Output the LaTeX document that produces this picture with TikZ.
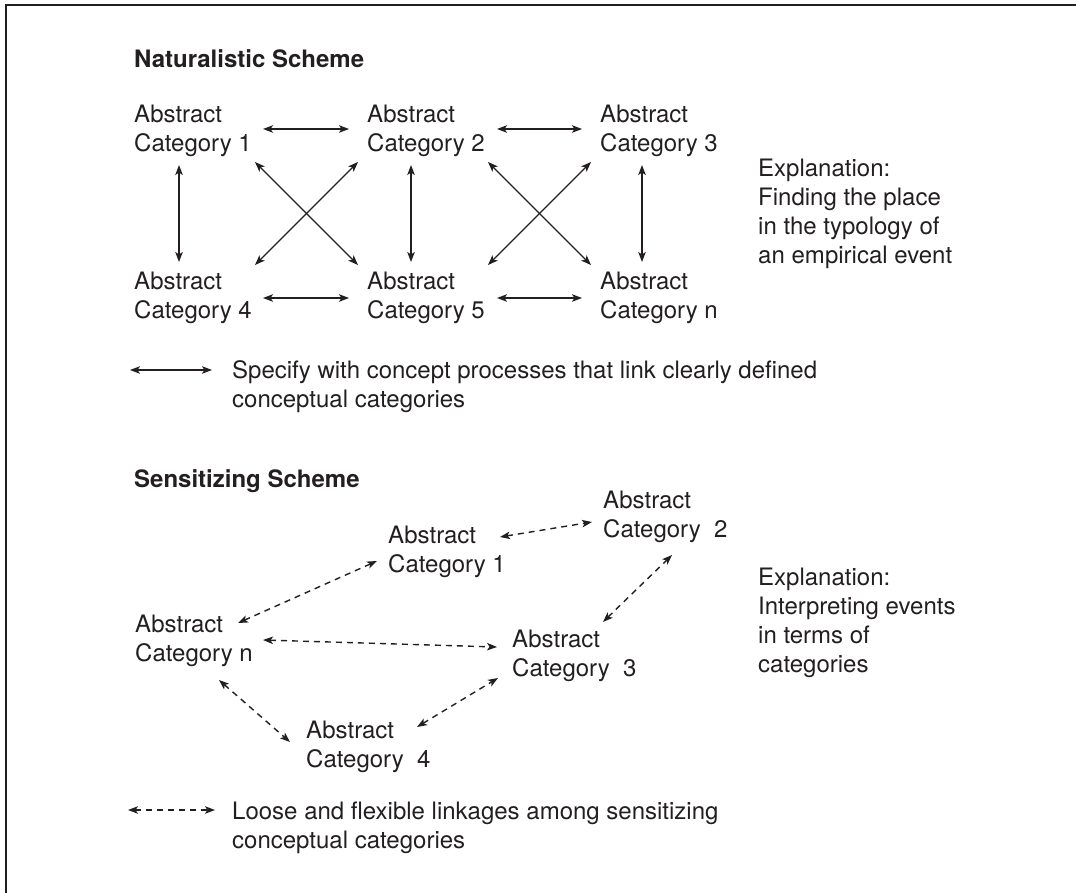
\documentclass[tikz,border=0pt]{standalone}
\usepackage{fontspec}
\setmainfont{TeX Gyre Heros}
\usetikzlibrary{arrows.meta,calc}
\definecolor{ink}{HTML}{231F20}
\newcommand{\rowsof}[1]{\begin{tabular}[t]{@{}l@{}}#1\end{tabular}}
\begin{document}
\begin{tikzpicture}[x=1pt,y=-1pt,
  txt/.style={inner sep=0pt, anchor=base west, text=ink, font=\fontsize{24}{29}\selectfont},
  ttl/.style={txt, font=\fontsize{24}{29}\selectfont\bfseries},
  sarr/.style={draw=ink, line width=1.4pt,
    {Stealth[length=10pt,width=7.5pt,inset=2.5pt]}-{Stealth[length=10pt,width=7.5pt,inset=2.5pt]}},
  darr/.style={sarr, dash pattern=on 6pt off 5pt}]
\useasboundingbox (0,0) rectangle (1076,893);
% frame
\draw[ink, line width=1.5pt] (1076,5) -- (6,5) -- (6,893);

% ---------- Naturalistic scheme ----------
\node[ttl] (t1) at (134,68) {Naturalistic Scheme};
\node[txt] (n1) at (134,123) {\rowsof{Abstract\\Category 1}};
\node[txt] (n2) at (367,123) {\rowsof{Abstract\\Category 2}};
\node[txt] (n3) at (600,123) {\rowsof{Abstract\\Category 3}};
\node[txt] (n4) at (134,290) {\rowsof{Abstract\\Category 4}};
\node[txt] (n5) at (367,290) {\rowsof{Abstract\\Category 5}};
\node[txt] (n6) at (600,290) {\rowsof{Abstract\\Category n}};
\node[txt] (e1) at (758,177) {\rowsof{Explanation:\\Finding the place\\in the typology of\\an empirical event}};

% horizontal
\draw[sarr] ($(n1.base west)+(129,6)$) -- ($(n2.base west)+(-18,6)$);
\draw[sarr] ($(n2.base west)+(130,6)$) -- ($(n3.base west)+(-18,6)$);
\draw[sarr] ($(n4.base west)+(129,8)$) -- ($(n5.base west)+(-18,8)$);
\draw[sarr] ($(n5.base west)+(130,8)$) -- ($(n6.base west)+(-18,8)$);
% vertical
\draw[sarr] ($(n1.base west)+(45,42)$) -- ($(n4.base west)+(45,-28)$);
\draw[sarr] ($(n2.base west)+(44,42)$) -- ($(n5.base west)+(44,-28)$);
\draw[sarr] ($(n3.base west)+(42,42)$) -- ($(n6.base west)+(42,-28)$);
% diagonals
\draw[sarr] ($(n1.base west)+(121,39)$) -- ($(n5.base west)+(-9,-25)$);
\draw[sarr] ($(n2.base west)+(-9,39)$) -- ($(n4.base west)+(121,-25)$);
\draw[sarr] ($(n2.base west)+(121,39)$) -- ($(n6.base west)+(-9,-25)$);
\draw[sarr] ($(n3.base west)+(-9,39)$) -- ($(n5.base west)+(121,-25)$);

% legend 1
\node[txt] (l1) at (232,378) {\rowsof{Specify with concept processes that link clearly defined\\conceptual categories}};
\draw[sarr] ($(l1.base west)+(-102,-8)$) -- ($(l1.base west)+(-20,-8)$);

% ---------- Sensitizing scheme ----------
\node[ttl] (t2) at (134,487) {Sensitizing Scheme};
\node[txt] (s1) at (388,543) {\rowsof{Abstract\\Category 1}};
\node[txt] (s2) at (603,508) {\rowsof{Abstract\\Category~~2}};
\node[txt] (s3) at (512,647) {\rowsof{Abstract\\Category~~3}};
\node[txt] (sn) at (135,632) {\rowsof{Abstract\\Category n}};
\node[txt] (s4) at (306,738) {\rowsof{Abstract\\Category~~4}};
\node[txt] (e2) at (758,585) {\rowsof{Explanation:\\Interpreting events\\in terms of\\categories}};

\draw[darr] ($(s1.base west)+(112,-6)$) -- ($(s2.base west)+(-11,14)$);
\draw[darr] ($(sn.base west)+(103,-9)$) -- ($(s1.base west)+(-11,18)$);
\draw[darr] ($(sn.base west)+(128,8)$) -- ($(s3.base west)+(-15,0)$);
\draw[darr] ($(sn.base west)+(84,48)$) -- ($(s4.base west)+(-16,4)$);
\draw[darr] ($(s4.base west)+(111,-11)$) -- ($(s3.base west)+(-14,31)$);
\draw[darr] ($(s3.base west)+(91,-25)$) -- ($(s2.base west)+(69,47)$);

% legend 2
\node[txt] (l2) at (232,819) {\rowsof{Loose and flexible linkages among sensitizing\\conceptual categories}};
\draw[darr] ($(l2.base west)+(-104,-9)$) -- ($(l2.base west)+(-17,-9)$);
\end{tikzpicture}
\end{document}
